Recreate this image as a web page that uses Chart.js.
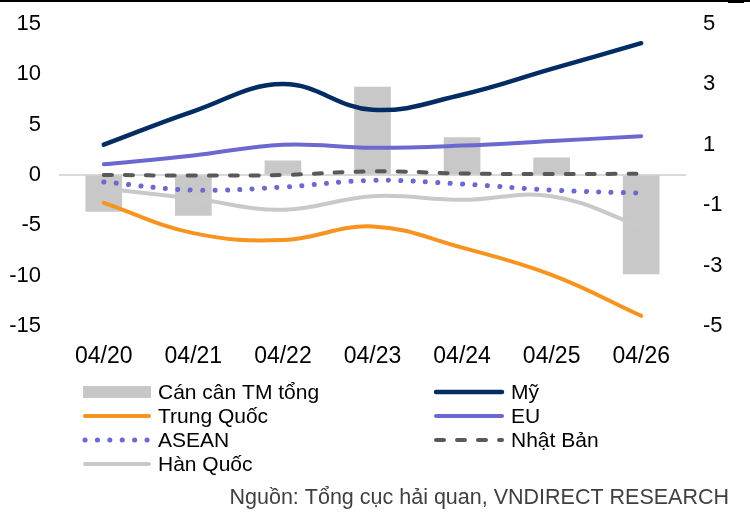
<!DOCTYPE html>
<html>
<head>
<meta charset="utf-8">
<script src="https://cdn.jsdelivr.net/npm/chart.js@4.4.0/dist/chart.umd.min.js"></script>
<style>
  html, body { margin: 0; padding: 0; background: #fff; }
  #wrap { position: relative; width: 750px; height: 513px; }
</style>
</head>
<body>
<div id="wrap"><canvas id="graficoCanCan" width="750" height="513"></canvas></div>
<script>
const thang = ['04/20', '04/21', '04/22', '04/23', '04/24', '04/25', '04/26'];
const canCanTong = [-3.6, -4.0, 1.4, 8.7, 3.7, 1.7, -9.8];
const my = [1.0, 2.1, 3.0, 2.15, 2.65, 3.5, 4.35];
const trungQuoc = [-0.92, -1.92, -2.15, -1.7, -2.4, -3.3, -4.65];
const eu = [0.35, 0.64, 1.0, 0.9, 0.97, 1.12, 1.28];
const asean = [-0.23, -0.5, -0.4, -0.18, -0.3, -0.5, -0.6];
const nhatBan = [0.0, -0.02, 0.0, 0.12, 0.05, 0.03, 0.04];
const hanQuoc = [-0.45, -0.78, -1.15, -0.7, -0.82, -0.7, -1.7];
const ticksTrai = [-15, -10, -5, 0, 5, 10, 15];
const ticksPhai = [-5, -3, -1, 1, 3, 5];

const FONT = "'Liberation Sans', Arial, sans-serif";

function duong(label, data, color, extra) {
    return Object.assign({
        type: 'line',
        label: label,
        data: data,
        yAxisID: 'y1',
        borderColor: color,
        backgroundColor: color,
        borderWidth: 4,
        pointRadius: 0,
        tension: 0.4,
        borderCapStyle: 'round',
        fill: false,
        order: 1
    }, extra || {});
}

const datasets = [
    {
        type: 'bar',
        label: 'Cán cân TM tổng',
        data: canCanTong,
        yAxisID: 'y',
        backgroundColor: '#C8C8C8',
        barThickness: 36,
        order: 10
    },
    duong('Mỹ', my, '#022C63', { borderWidth: 4.5 }),
    duong('Trung Quốc', trungQuoc, '#F7931E'),
    duong('EU', eu, '#6B68CF'),
    duong('ASEAN', asean, '#6B68CF', { borderDash: [0.1, 12.3], borderWidth: 5 }),
    duong('Nhật Bản', nhatBan, '#595959', { borderDash: [8, 13] }),
    duong('Hàn Quốc', hanQuoc, '#C9C9C9')
];

// legend in two columns, drawn by hand
const legendPlugin = {
    id: 'legendHaiCot',
    afterDraw(chart) {
        const ctx = chart.ctx;
        const cot = [
            { x0: 83, x1: 151, tx: 158, items: [0, 2, 4, 6] },
            { x0: 434, x1: 504, tx: 511, items: [1, 3, 5] }
        ];
        const hang = [392, 416, 440, 464];
        ctx.save();
        ctx.font = '21px ' + FONT;
        ctx.textBaseline = 'middle';
        ctx.textAlign = 'left';
        cot.forEach(c => {
            c.items.forEach((idx, i) => {
                const ds = chart.data.datasets[idx];
                const y = hang[i];
                if (ds.type === 'bar') {
                    ctx.fillStyle = ds.backgroundColor;
                    ctx.fillRect(c.x0, y - 6, c.x1 - c.x0, 12);
                } else {
                    ctx.beginPath();
                    ctx.strokeStyle = ds.borderColor;
                    ctx.lineWidth = ds.borderWidth;
                    ctx.lineCap = 'round';
                    ctx.setLineDash(ds.borderDash || []);
                    ctx.moveTo(c.x0 + 2, y);
                    ctx.lineTo(c.x1 - 2, y);
                    ctx.stroke();
                    ctx.setLineDash([]);
                }
                ctx.fillStyle = '#000';
                ctx.fillText(ds.label, c.tx, y + 1);
            });
        });
        ctx.fillStyle = '#404040';
        ctx.font = '21.5px ' + FONT;
        ctx.textAlign = 'right';
        ctx.fillText('Nguồn: Tổng cục hải quan, VNDIRECT RESEARCH', 729, 498);

        // top rule
        ctx.fillStyle = '#000';
        ctx.fillRect(0, 0, 750, 2);
        ctx.fillRect(728, 0, 16, 3);
        ctx.restore();
    }
};

const config = {
    type: 'bar',
    data: { labels: thang, datasets: datasets },
    options: {
        responsive: false,
        animation: false,
        layout: { padding: { top: 18, bottom: 127, left: 0, right: 0 } },
        plugins: {
            legend: { display: false },
            tooltip: { enabled: false }
        },
        scales: {
            x: {
                offset: true,
                grid: { display: false, drawTicks: false },
                border: { display: false },
                ticks: { color: '#000', font: { family: FONT, size: 23 }, padding: 16, maxRotation: 0 }
            },
            y: {
                position: 'left',
                min: -15,
                max: 15,
                afterBuildTicks: s => { s.ticks = ticksTrai.map(v => ({ value: v })); },
                afterFit: s => { s.width = 59; },
                grid: {
                    drawTicks: false,
                    color: c => (c.tick && c.tick.value === 0) ? '#D9D9D9' : 'rgba(0,0,0,0)',
                    lineWidth: 2
                },
                border: { display: false },
                ticks: { color: '#000', font: { family: FONT, size: 22, lineHeight: 0.5 }, padding: 18 }
            },
            y1: {
                position: 'right',
                min: -5,
                max: 5,
                afterBuildTicks: s => { s.ticks = ticksPhai.map(v => ({ value: v })); },
                afterFit: s => { s.width = 64; },
                grid: { display: false, drawTicks: false },
                border: { display: false },
                ticks: { color: '#000', font: { family: FONT, size: 22, lineHeight: 0.5 }, padding: 17 }
            }
        }
    },
    plugins: [legendPlugin]
};

var graficoCanCan = new Chart(document.getElementById('graficoCanCan'), config);
</script>
</body>
</html>
